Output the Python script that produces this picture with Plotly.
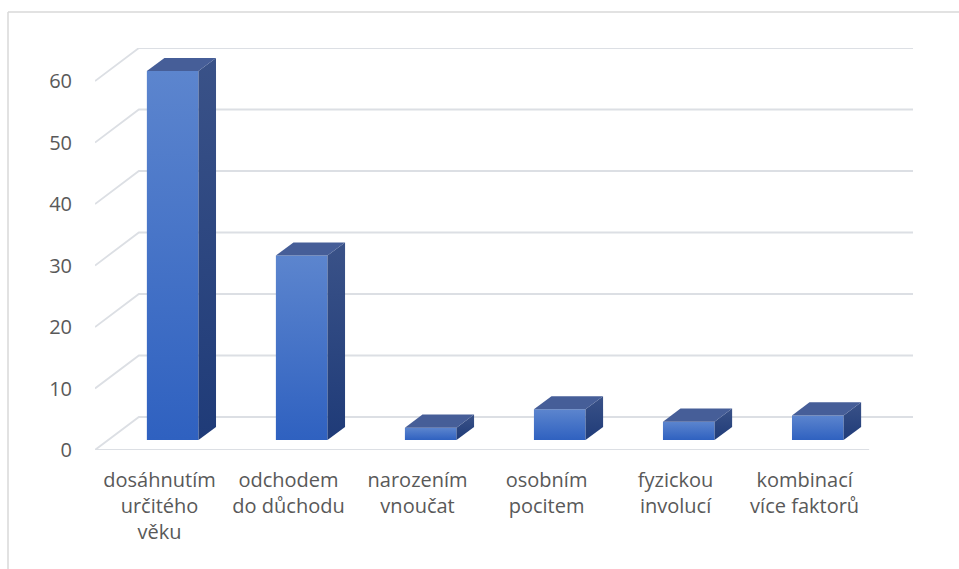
import plotly.graph_objects as go

categories = ["dosáhnutím<br>určitého<br>věku", "odchodem<br>do důchodu", "narozením<br>vnoučat",
              "osobním<br>pocitem", "fyzickou<br>involucí", "kombinací<br>více faktorů"]
values = [60, 30, 2, 5, 3, 4]
y_ticks = [0, 10, 20, 30, 40, 50, 60]

# fake 3d: depth offset of the back wall in data units
DX = 0.34
DY = 5.37
F0, F1 = 0.3, 0.7      # bar depth (fraction of floor depth)
BW = 0.4               # bar width (fraction of slot)

W, H = 959, 569
ML, MR, MT, MB = 95, 46, 48, 119
GRID = "#dcdfe4"

fig = go.Figure()

n = len(categories)

# back wall lines, left wall diagonals
for v in y_ticks:
    fig.add_trace(go.Scatter(x=[0, DX, n + DX], y=[v, v + DY, v + DY], mode="lines",
                             line=dict(color=GRID, width=1.8), hoverinfo="skip"))
# floor front edge
fig.add_trace(go.Scatter(x=[0, n], y=[0, 0], mode="lines",
                         line=dict(color=GRID, width=1.8), hoverinfo="skip"))

for i, v in enumerate(values):
    xl = i + 0.5 - BW / 2 + F0 * DX
    xr = xl + BW
    yb = F0 * DY
    yt = yb + v
    ox = (F1 - F0) * DX
    oy = (F1 - F0) * DY
    # front
    fig.add_trace(go.Scatter(x=[xl, xr, xr, xl, xl], y=[yb, yb, yt, yt, yb], mode="lines",
                             fill="toself", line=dict(width=0),
                             fillgradient=dict(type="vertical",
                                               colorscale=[[0, "#2f61c0"], [1, "#5c85ce"]]),
                             hoverinfo="skip"))
    # side
    fig.add_trace(go.Scatter(x=[xr, xr + ox, xr + ox, xr, xr], y=[yb, yb + oy, yt + oy, yt, yb],
                             mode="lines", fill="toself", line=dict(width=0),
                             fillgradient=dict(type="vertical",
                                               colorscale=[[0, "#1f3b78"], [1, "#3a5288"]]),
                             hoverinfo="skip"))
    # top
    fig.add_trace(go.Scatter(x=[xl, xr, xr + ox, xl + ox, xl], y=[yt, yt, yt + oy, yt + oy, yt],
                             mode="lines", fill="toself", line=dict(width=0),
                             fillcolor="#465e98", hoverinfo="skip"))

# chart area border (only top and left edges are visible)
pw = W - ML - MR
ph = H - MT - MB
bx = (8 - ML) / pw
by = (H - MB - 12) / ph
fig.add_shape(type="line", xref="paper", yref="paper", x0=bx, x1=1.2, y0=by, y1=by,
              line=dict(color="#d9d9d9", width=1.5))
fig.add_shape(type="line", xref="paper", yref="paper", x0=bx, x1=bx, y0=by, y1=-0.5,
              line=dict(color="#d9d9d9", width=1.5))

fig.update_layout(
    width=W, height=H,
    margin=dict(l=ML, r=MR, t=MT, b=MB),
    plot_bgcolor="white", paper_bgcolor="white",
    showlegend=False,
    font=dict(family="Open Sans", size=20, color="#595959"),
    xaxis=dict(range=[0, n + DX], showgrid=False, zeroline=False, showline=False,
               tickmode="array", tickvals=[i + 0.5 for i in range(n)], ticktext=categories,
               ticks="", ticklabelstandoff=16, fixedrange=True),
    yaxis=dict(range=[0, 60 + DY], showgrid=False, zeroline=False, showline=False,
               tickmode="array", tickvals=y_ticks, ticktext=[str(t) for t in y_ticks],
               ticks="", ticklabelstandoff=22, fixedrange=True),
)

fig.write_html("out.html", config={"displayModeBar": False},
               post_script="document.body.style.margin='0';document.body.style.overflow='hidden';")
